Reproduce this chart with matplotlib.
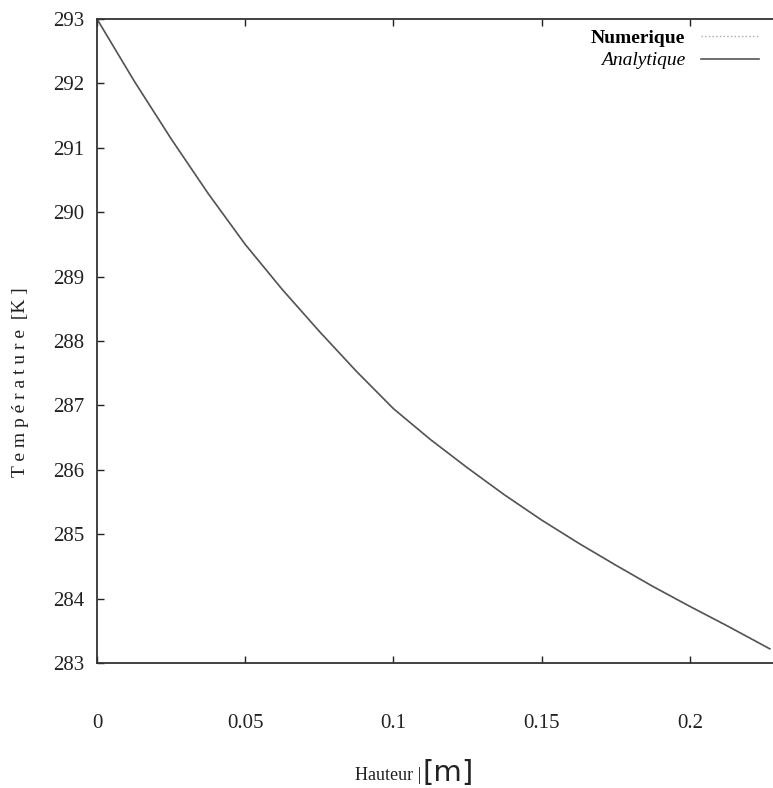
import matplotlib.pyplot as plt

# valeurs
hauteur = [0, 0.0125, 0.025, 0.0375, 0.05, 0.0625, 0.075, 0.0875, 0.1, 0.1125,
           0.125, 0.1375, 0.15, 0.1625, 0.175, 0.1875, 0.2, 0.2125, 0.227]
temperature = [293.0, 292.04, 291.14, 290.29, 289.5, 288.8, 288.15, 287.53, 286.95, 286.47,
               286.03, 285.61, 285.22, 284.86, 284.52, 284.19, 283.88, 283.58, 283.22]
xticks = [0, 0.05, 0.1, 0.15, 0.2]
xtick_labels = ['0', '0.05', '0.1', '0.15', '0.2']
yticks = list(range(283, 294))

plt.rcParams['font.family'] = ['Liberation Serif', 'DejaVu Serif']

fig = plt.figure(figsize=(7.73, 7.88), dpi=100)
ax = fig.add_axes([0.1255, 0.1586, 0.9586, 0.8173])

ax.plot(hauteur, temperature, color='#aaaaaa', lw=1.0, ls=':', label='Numerique')
ax.plot(hauteur, temperature, color='#555555', lw=1.2, label='Analytique')

ax.set_xlim(0, 0.25)
ax.set_ylim(283, 293)
ax.set_xticks(xticks)
ax.set_xticklabels(xtick_labels)
ax.set_yticks(yticks)
ax.tick_params(direction='in', top=True, right=True, length=5, width=1,
               labelsize=15, colors='#222222')
ax.tick_params(axis='x', pad=37)
ax.tick_params(axis='y', pad=9)
for s in ax.spines.values():
    s.set_linewidth(1.3)
    s.set_color('#333333')

leg = fig.legend(loc='upper right', bbox_to_anchor=(1.005, 0.985), markerfirst=False,
                 frameon=False, handlelength=3.0, fontsize=14, labelspacing=0.25)
leg.get_texts()[0].set_fontweight('bold')
leg.get_texts()[1].set_fontstyle('italic')

fig.text(0.027, 0.515, 'T e m p é r a t u r e  [K ]', rotation=90, ha='center', va='center',
         fontsize=14, color='#222222')
fig.text(0.545, 0.005, 'Hauteur |', ha='right', va='bottom', fontsize=13, color='#222222')
fig.text(0.547, 0.001, '[m]', ha='left', va='bottom', fontsize=21, color='#222222',
         family='DejaVu Sans')

fig.savefig('out.png', dpi=100)
